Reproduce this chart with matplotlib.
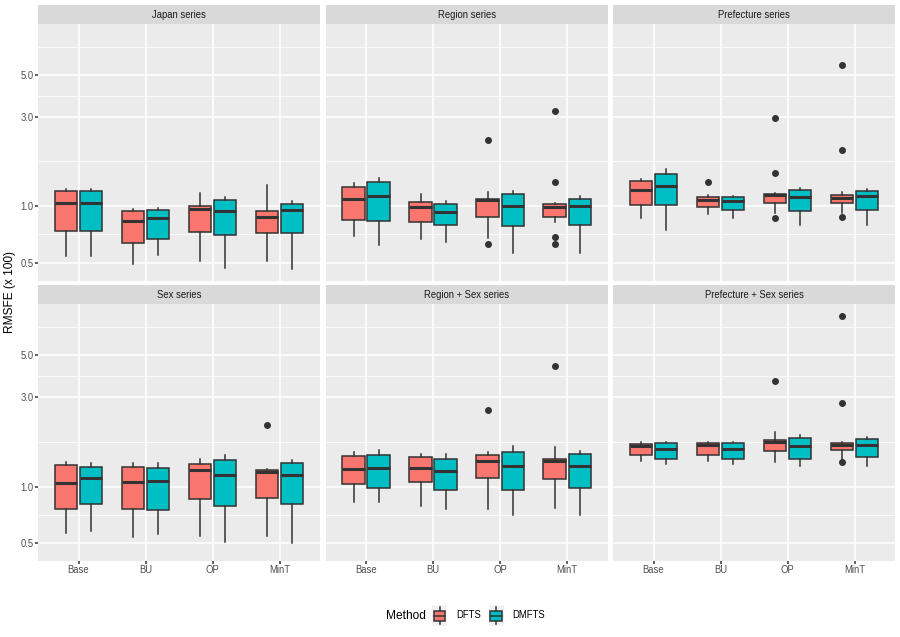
import numpy as np
import matplotlib.pyplot as plt
from matplotlib.patches import Rectangle, Patch
from matplotlib.lines import Line2D
from matplotlib.legend_handler import HandlerBase
from matplotlib.ticker import FixedLocator, FixedFormatter

plt.rcParams['font.family'] = ['Liberation Sans', 'DejaVu Sans']

methods = ['Base', 'BU', 'OP', 'MinT']
series = ['DFTS', 'DMFTS']
panels = ['Japan series', 'Region series', 'Prefecture series',
          'Sex series', 'Region + Sex series', 'Prefecture + Sex series']

# rows follow methods; columns: lower whisker, q1, median, q3, upper whisker
japan_dfts = [[0.541, 0.739, 1.037, 1.207, 1.232],
              [0.491, 0.635, 0.832, 0.944, 0.964],
              [0.509, 0.727, 0.972, 1.008, 1.178],
              [0.513, 0.724, 0.874, 0.940, 1.305]]
japan_dmfts = [[0.541, 0.739, 1.040, 1.207, 1.232],
               [0.548, 0.667, 0.863, 0.956, 0.976],
               [0.469, 0.700, 0.948, 1.085, 1.126],
               [0.463, 0.721, 0.952, 1.029, 1.072]]
region_dfts = [[0.695, 0.849, 1.090, 1.273, 1.326],
               [0.669, 0.822, 0.988, 1.050, 1.159],
               [0.681, 0.877, 1.081, 1.099, 1.192],
               [0.825, 0.881, 0.988, 1.033, 1.046]]
region_dmfts = [[0.619, 0.839, 1.140, 1.354, 1.416],
                [0.643, 0.795, 0.929, 1.033, 1.063],
                [0.562, 0.782, 1.008, 1.164, 1.207],
                [0.562, 0.795, 1.008, 1.099, 1.140]]
pref_dfts = [[0.863, 1.021, 1.222, 1.365, 1.399],
             [0.910, 0.996, 1.085, 1.121, 1.145],
             [0.921, 1.042, 1.149, 1.168, 1.183],
             [0.925, 1.037, 1.112, 1.145, 1.197]]
pref_dmfts = [[0.751, 1.012, 1.278, 1.487, 1.582],
              [0.870, 0.960, 1.063, 1.121, 1.131],
              [0.795, 0.944, 1.121, 1.222, 1.258],
              [0.795, 0.956, 1.131, 1.207, 1.237]]
sex_dfts = [[0.564, 0.757, 1.046, 1.299, 1.354],
            [0.541, 0.763, 1.063, 1.268, 1.331],
            [0.548, 0.863, 1.222, 1.326, 1.399],
            [0.546, 0.870, 1.197, 1.232, 1.247]]
sex_dmfts = [[0.582, 0.805, 1.112, 1.278, 1.337],
             [0.559, 0.754, 1.068, 1.258, 1.331],
             [0.505, 0.785, 1.145, 1.382, 1.481],
             [0.503, 0.805, 1.154, 1.337, 1.382]]
regsex_dfts = [[0.828, 1.037, 1.237, 1.451, 1.524],
               [0.792, 1.059, 1.252, 1.428, 1.494],
               [0.763, 1.112, 1.365, 1.481, 1.531],
               [0.766, 1.099, 1.370, 1.410, 1.621]]
regsex_dmfts = [[0.825, 0.976, 1.258, 1.469, 1.556],
                [0.757, 0.960, 1.212, 1.410, 1.494],
                [0.706, 0.964, 1.289, 1.531, 1.641],
                [0.709, 0.976, 1.289, 1.487, 1.537]]
prefsex_dfts = [[1.365, 1.481, 1.648, 1.689, 1.723],
                [1.365, 1.475, 1.661, 1.703, 1.723],
                [1.348, 1.537, 1.723, 1.766, 1.957],
                [1.390, 1.562, 1.668, 1.710, 1.723]]
prefsex_dmfts = [[1.326, 1.410, 1.588, 1.696, 1.723],
                 [1.326, 1.410, 1.588, 1.696, 1.723],
                 [1.294, 1.410, 1.641, 1.803, 1.878],
                 [1.294, 1.434, 1.661, 1.788, 1.833]]

# outliers per method
no_out = [[], [], [], []]
region_dfts_out = [[], [], [2.258, 0.627], [3.20, 1.348, 0.683, 0.630]]
pref_dfts_out = [[], [1.354], [2.935, 1.512, 0.870], [5.65, 2.005, 0.874]]
sex_dfts_out = [[], [], [], [2.133]]
regsex_dfts_out = [[], [], [2.543], [4.40]]
prefsex_dfts_out = [[], [], [3.646], [8.13, 2.783, 1.355]]

panel_stats = [
    (japan_dfts, no_out, japan_dmfts, no_out),
    (region_dfts, region_dfts_out, region_dmfts, no_out),
    (pref_dfts, pref_dfts_out, pref_dmfts, no_out),
    (sex_dfts, sex_dfts_out, sex_dmfts, no_out),
    (regsex_dfts, regsex_dfts_out, regsex_dmfts, no_out),
    (prefsex_dfts, prefsex_dfts_out, prefsex_dmfts, no_out),
]

colors = {'DFTS': '#F8766D', 'DMFTS': '#00BFC4'}
edge = '#333333'

y_ticks = [0.5, 1.0, 3.0, 5.0]
y_tick_labels = ['0.5', '1.0', '3.0', '5.0']
y_minor = [0.7071, 1.732, 3.873, 7.071]


def to_stats(rows, outs):
    out = []
    for r, f in zip(rows, outs):
        out.append({'whislo': r[0], 'q1': r[1], 'med': r[2], 'q3': r[3],
                    'whishi': r[4], 'fliers': f})
    return out


class BoxKey(HandlerBase):
    # ggplot-like boxplot glyph for the legend
    def create_artists(self, legend, orig_handle, xdescent, ydescent,
                       width, height, fontsize, trans):
        x0, y0 = -xdescent, -ydescent
        bg = Rectangle((x0, y0), width, height, fc='#F2F2F2', ec='none',
                       transform=trans)
        box = Rectangle((x0 + 0.11 * width, y0 + 0.27 * height),
                        0.78 * width, 0.46 * height,
                        fc=orig_handle.get_facecolor(), ec=edge, lw=1.1,
                        transform=trans)
        cx = x0 + width / 2
        med = Line2D([x0 + 0.11 * width, x0 + 0.89 * width],
                     [y0 + 0.5 * height] * 2, color=edge, lw=1.1,
                     transform=trans)
        w1 = Line2D([cx, cx], [y0 + 0.08 * height, y0 + 0.27 * height],
                    color=edge, lw=1.1, transform=trans)
        w2 = Line2D([cx, cx], [y0 + 0.73 * height, y0 + 0.92 * height],
                    color=edge, lw=1.1, transform=trans)
        return [bg, w1, w2, box, med]


W, H = 900, 637
fig = plt.figure(figsize=(9, 6.37), dpi=100)
col_left = [38.3, 326.0, 613.3]
panel_w = 281.5
row_top = [24.0, 304.3]
panel_h = 256.5
strip_h = 19.0

xpos = np.arange(1, len(methods) + 1)
offset = 0.1875

for k, name in enumerate(panels):
    row, col = divmod(k, 3)
    left = col_left[col]
    top = row_top[row]
    ax = fig.add_axes([left / W, 1 - (top + panel_h) / H, panel_w / W, panel_h / H])
    sax = fig.add_axes([left / W, 1 - top / H, panel_w / W, strip_h / H])
    sax.set_facecolor('#D9D9D9')
    sax.set_xticks([])
    sax.set_yticks([])
    for s in sax.spines.values():
        s.set_visible(False)
    sax.text(0.5, 0.5, name, ha='center', va='center', fontsize=6.85,
             color='#1A1A1A', transform=sax.transAxes)

    ax.set_facecolor('#EBEBEB')
    for s in ax.spines.values():
        s.set_visible(False)
    ax.set_yscale('log')
    ax.set_ylim(0.402, 9.35)
    ax.set_xlim(0.4, 4.6)

    d_rows, d_out, m_rows, m_out = panel_stats[k]
    for rows, outs, sign, sname in [(d_rows, d_out, -1, 'DFTS'),
                                    (m_rows, m_out, 1, 'DMFTS')]:
        ax.bxp(to_stats(rows, outs), positions=xpos + sign * offset,
               widths=0.3375, patch_artist=True, showcaps=False,
               manage_ticks=False, zorder=3,
               boxprops=dict(facecolor=colors[sname], edgecolor=edge, linewidth=1.1),
               medianprops=dict(color=edge, linewidth=2.2, solid_capstyle='butt'),
               whiskerprops=dict(color=edge, linewidth=1.1),
               flierprops=dict(marker='o', markerfacecolor=edge,
                               markeredgecolor=edge, markersize=4.0))

    ax.yaxis.set_major_locator(FixedLocator(y_ticks))
    ax.yaxis.set_major_formatter(FixedFormatter(y_tick_labels))
    ax.yaxis.set_minor_locator(FixedLocator(y_minor))
    ax.yaxis.set_minor_formatter(FixedFormatter([''] * len(y_minor)))
    ax.set_xticks(xpos)
    ax.set_xticklabels(methods)
    ax.set_axisbelow(True)
    ax.grid(True, which='major', color='white', linewidth=1.1)
    ax.grid(True, which='minor', axis='y', color='white', linewidth=0.55)
    ax.tick_params(which='minor', length=0)
    ax.tick_params(which='major', length=2.14, width=1.1, color=edge,
                   labelsize=6.85, labelcolor='#4D4D4D', pad=1.2)
    if col != 0:
        ax.tick_params(axis='y', which='major', left=False, labelleft=False)
    if row == 0:
        ax.tick_params(axis='x', which='major', bottom=False, labelbottom=False)

fig.text(10 / W, 1 - 292.5 / H, 'RMSFE (x 100)', rotation=90, ha='center',
         va='center', fontsize=8.55, color='black')

handles = [Patch(facecolor=colors[s]) for s in series]
fig.text(426 / W, 1 - 615.7 / H, 'Method', ha='right', va='center',
         fontsize=8.55, color='black')
fig.legend(handles, series, handler_map={Patch: BoxKey()}, loc='center left',
           bbox_to_anchor=(432 / W, 1 - 615.7 / H), ncol=2, frameon=False,
           fontsize=6.85, handlelength=1.58, handleheight=3.0,
           handletextpad=0.95, columnspacing=0.8, borderpad=0, borderaxespad=0)

fig.savefig('out.png', dpi=100)
